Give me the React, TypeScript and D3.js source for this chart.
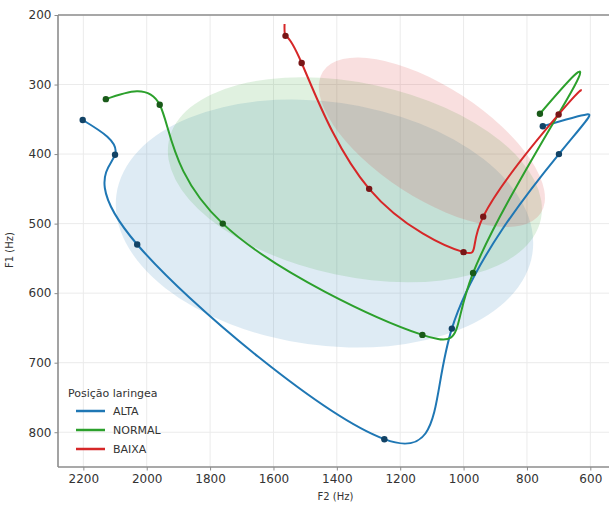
import React, { useRef, useEffect } from "react";
import * as d3 from "d3";

// tick labels
const xTicks = [2200, 2000, 1800, 1600, 1400, 1200, 1000, 800, 600];
const yTicks = [200, 300, 400, 500, 600, 700, 800];

// ALTA trajectory (F2, F1) - marked points are the vowel means
const altaF2 = [2202, 2100, 2030, 1250, 1037, 699, 612, 750];
const altaF1 = [351, 401, 530, 810, 651, 400, 343, 360];
const altaMarked = [true, true, true, true, true, true, false, true];

// NORMAL
const normalF2 = [2129, 1959, 1760, 1130, 970, 650, 759];
const normalF1 = [321, 329, 500, 660, 571, 302, 342];
const normalMarked = [true, true, true, true, true, false, true];

// BAIXA
const baixaF2 = [1565, 1562, 1511, 1298, 1000, 938, 700, 627];
const baixaF1 = [213, 230, 269, 450, 541, 490, 343, 308];
const baixaMarked = [false, true, true, true, true, true, true, false];

// dispersion ellipses: centre (F2, F1), half-axes (Hz) and tilt (deg)
const ellipseNames = ["ALTA", "NORMAL", "BAIXA"];
const ellipseF2 = [1439, 1343, 1100];
const ellipseF1 = [500, 437, 383];
const ellipseRF2 = [663, 600, 410];
const ellipseRF1 = [175, 139, 80];
const ellipseTilt = [8, 12, 33];

const seriesNames = ["ALTA", "NORMAL", "BAIXA"];
const seriesColors = ["#1f77b4", "#2ca02c", "#d62728"];

function drawChart(svgEl: SVGSVGElement, totalWidth: number, totalHeight: number) {
  const left = 58;
  const top = 15;
  const bottom = 467;
  const right = 612.5;

  const svg = d3.select(svgEl);
  svg.selectAll("*").remove();
  svg.attr("width", totalWidth).attr("height", totalHeight);

  const x = d3.scaleLinear().domain([2280, 530]).range([left, right]);
  const y = d3.scaleLinear().domain([200, 850]).range([top, bottom]);

  svg.append("rect").attr("width", totalWidth).attr("height", totalHeight).attr("fill", "#fff");

  // grid
  const grid = svg.append("g");
  grid
    .selectAll("line.vx")
    .data(xTicks)
    .enter()
    .append("line")
    .attr("x1", (d) => x(d))
    .attr("x2", (d) => x(d))
    .attr("y1", top)
    .attr("y2", bottom)
    .attr("stroke", "#ebebeb")
    .attr("stroke-width", 1);
  grid
    .selectAll("line.hy")
    .data(yTicks)
    .enter()
    .append("line")
    .attr("x1", left)
    .attr("x2", totalWidth)
    .attr("y1", (d) => y(d))
    .attr("y2", (d) => y(d))
    .attr("stroke", "#ebebeb")
    .attr("stroke-width", 1);

  // ellipses
  const ell = svg.append("g");
  ellipseNames.forEach((name, i) => {
    const cx = x(ellipseF2[i]);
    const cy = y(ellipseF1[i]);
    ell
      .append("ellipse")
      .attr("cx", cx)
      .attr("cy", cy)
      .attr("rx", Math.abs(x(ellipseF2[i] - ellipseRF2[i]) - cx))
      .attr("ry", Math.abs(y(ellipseF1[i] + ellipseRF1[i]) - cy))
      .attr("transform", `rotate(${ellipseTilt[i]}, ${cx}, ${cy})`)
      .attr("fill", seriesColors[i])
      .attr("fill-opacity", 0.15);
  });

  // trajectories
  const series = [
    { f2: altaF2, f1: altaF1, marked: altaMarked },
    { f2: normalF2, f1: normalF1, marked: normalMarked },
    { f2: baixaF2, f1: baixaF1, marked: baixaMarked },
  ];
  const line = d3
    .line<[number, number]>()
    .x((d) => x(d[0]))
    .y((d) => y(d[1]))
    .curve(d3.curveNatural);

  series.forEach((s, i) => {
    const pts: [number, number][] = s.f2.map((v, j) => [v, s.f1[j]]);
    const g = svg.append("g");
    g.append("path")
      .attr("d", line(pts) as string)
      .attr("fill", "none")
      .attr("stroke", seriesColors[i])
      .attr("stroke-width", 2);
    g.selectAll("circle")
      .data(pts.filter((_, j) => s.marked[j]))
      .enter()
      .append("circle")
      .attr("cx", (d) => x(d[0]))
      .attr("cy", (d) => y(d[1]))
      .attr("r", 3.2)
      .attr("fill", d3.color(seriesColors[i])!.darker(1.6).formatHex());
  });

  // spines
  const spine = svg.append("g").attr("stroke", "#8c8c8c").attr("stroke-width", 1.6);
  spine.append("line").attr("x1", left).attr("x2", totalWidth).attr("y1", top).attr("y2", top);
  spine.append("line").attr("x1", left).attr("x2", left).attr("y1", top).attr("y2", bottom);
  spine.append("line").attr("x1", left).attr("x2", totalWidth).attr("y1", bottom).attr("y2", bottom);

  // axes
  const font = "DejaVu Sans, sans-serif";
  const yAxis = svg
    .append("g")
    .attr("transform", `translate(${left},0)`)
    .call(d3.axisLeft(y).tickValues(yTicks).tickSize(3.5).tickPadding(3).tickFormat(d3.format("d")));
  yAxis.select(".domain").remove();
  yAxis.selectAll("line").attr("stroke", "#8c8c8c");
  yAxis.selectAll("text").attr("font-size", 12).attr("font-family", font).attr("fill", "#333");

  const xAxis = svg
    .append("g")
    .attr("transform", `translate(0,${bottom})`)
    .call(d3.axisBottom(x).tickValues(xTicks).tickSize(3.5).tickPadding(4).tickFormat(d3.format("d")));
  xAxis.select(".domain").remove();
  xAxis.selectAll("line").attr("stroke", "#8c8c8c");
  xAxis.selectAll("text").attr("font-size", 12).attr("font-family", font).attr("fill", "#333");

  // axis labels
  svg
    .append("text")
    .attr("x", (left + totalWidth) / 2 + 2)
    .attr("y", 500)
    .attr("text-anchor", "middle")
    .attr("font-size", 10)
    .attr("font-family", font)
    .attr("fill", "#333")
    .text("F2 (Hz)");
  svg
    .append("text")
    .attr("transform", `translate(13,${(top + bottom) / 2 + 9}) rotate(-90)`)
    .attr("text-anchor", "middle")
    .attr("font-size", 10)
    .attr("font-family", font)
    .attr("fill", "#333")
    .text("F1 (Hz)");

  // legend
  const legend = svg.append("g").attr("font-family", font).attr("fill", "#333");
  legend.append("text").attr("x", 68).attr("y", 397).attr("font-size", 11).text("Posição laringea");
  seriesNames.forEach((name, i) => {
    const ly = 411 + i * 19;
    legend
      .append("line")
      .attr("x1", 76)
      .attr("x2", 105)
      .attr("y1", ly)
      .attr("y2", ly)
      .attr("stroke", seriesColors[i])
      .attr("stroke-width", 2.5);
    legend.append("text").attr("x", 113).attr("y", ly + 4).attr("font-size", 11).text(name);
  });
}

const App: React.FunctionComponent = function () {
  const svgRef = useRef<SVGSVGElement>(null);
  useEffect(() => {
    if (svgRef.current == null) return;
    drawChart(svgRef.current, 609, 505);
  }, []);
  return <svg ref={svgRef} style={{ position: "absolute", left: 0, top: 0 }} />;
};

export default App;
